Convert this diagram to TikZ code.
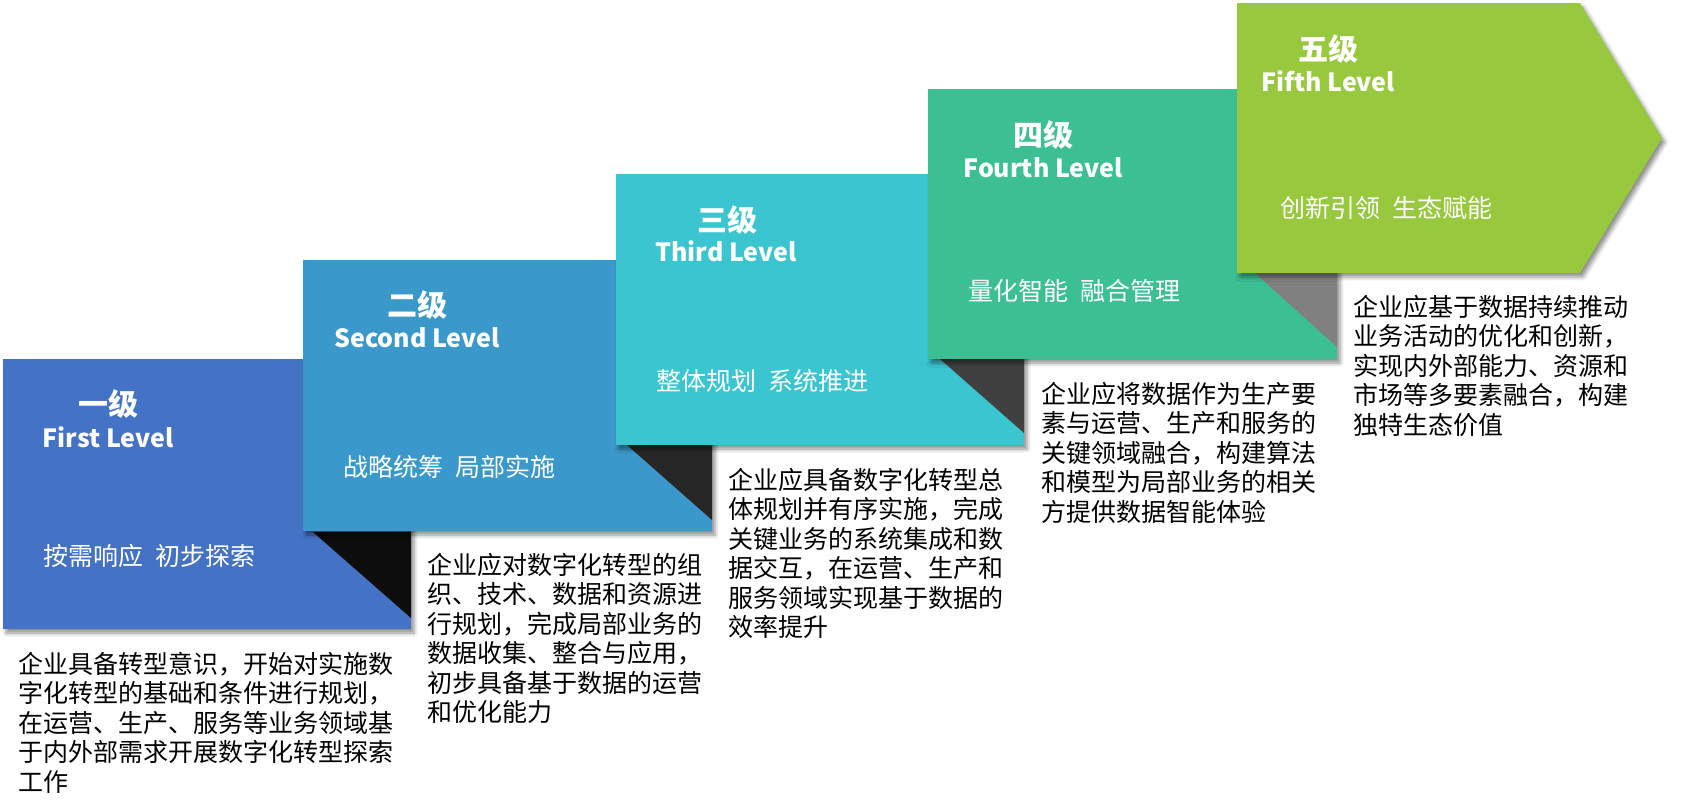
\documentclass[tikz,border=0pt]{standalone}
\usepackage{fontspec}
\setmainfont{Noto Sans CJK SC}
\usetikzlibrary{shadows.blur}
\definecolor{lvone}{HTML}{4472C4}
\definecolor{lvtwo}{HTML}{3A98CA}
\definecolor{lvthree}{HTML}{3AC5D0}
\definecolor{lvfour}{HTML}{3CBF93}
\definecolor{lvfive}{HTML}{97C83E}

\begin{document}
\begin{tikzpicture}[x=1pt,y=-1pt,
    stepshadow/.style={blur shadow={shadow xshift=3pt,shadow yshift=-4pt,shadow blur radius=4pt,shadow opacity=45}},
    cnlabel/.style={text=white,font=\bfseries\fontsize{30}{30}\selectfont,inner sep=0pt},
    enlabel/.style={text=white,font=\bfseries\fontsize{25}{25}\selectfont,inner sep=0pt,anchor=base},
    motto/.style={text=white,font=\fontsize{25}{25}\selectfont,inner sep=0pt,anchor=west},
    desc/.style={font=\fontsize{25}{29.5}\selectfont,inner sep=0pt,anchor=north west,align=left}]
        \useasboundingbox (0,0) rectangle (1697,804);

        \fill[lvone,stepshadow] (3,359) rectangle (411,629);
        \fill[black!95] (313,532) -- (411,532) -- (411,618) -- cycle;
        \fill[lvtwo,stepshadow] (303,260) rectangle (712,531);
        \fill[black!85] (627,445) -- (712,445) -- (712,520) -- cycle;
        \fill[lvthree,stepshadow] (616,174) rectangle (1024,445);
        \fill[black!75] (940,359) -- (1024,359) -- (1024,433) -- cycle;
        \fill[lvfour,stepshadow] (928,89) rectangle (1337,359);
        \fill[black!50] (1255,273) -- (1337,273) -- (1337,347) -- cycle;
        \fill[lvfive,stepshadow] (1237,3) -- (1580,3) -- (1662,138) -- (1580,273) -- (1237,273) -- cycle;

        \node[cnlabel] (cn1) at (108,404) {一级};
        \node[enlabel] (en1) at (108,447) {First Level};
        \node[motto] (mo1) at (43,556) {按需响应\enspace 初步探索};
        \node[cnlabel] (cn2) at (417,305) {二级};
        \node[enlabel] (en2) at (417,347) {Second Level};
        \node[motto] (mo2) at (343,467) {战略统筹\enspace 局部实施};
        \node[cnlabel] (cn3) at (727,220) {三级};
        \node[enlabel] (en3) at (726,261) {Third Level};
        \node[motto] (mo3) at (656,381) {整体规划\enspace 系统推进};
        \node[cnlabel] (cn4) at (1043,135) {四级};
        \node[enlabel] (en4) at (1043,177) {Fourth Level};
        \node[motto] (mo4) at (968,291) {量化智能\enspace 融合管理};
        \node[cnlabel] (cn5) at (1328,49) {五级};
        \node[enlabel] (en5) at (1328,91) {Fifth Level};
        \node[motto] (mo5) at (1280,208) {创新引领\enspace 生态赋能};

        \node[desc] (ds1) at (18,652) {企业具备转型意识，开始对实施数\\字化转型的基础和条件进行规划，\\在运营、生产、服务等业务领域基\\于内外部需求开展数字化转型探索\\工作};
        \node[desc] (ds2) at (427,553) {企业应对数字化转型的组\\织、技术、数据和资源进\\行规划，完成局部业务的\\数据收集、整合与应用，\\初步具备基于数据的运营\\和优化能力};
        \node[desc] (ds3) at (728,468) {企业应具备数字化转型总\\体规划并有序实施，完成\\关键业务的系统集成和数\\据交互，在运营、生产和\\服务领域实现基于数据的\\效率提升};
        \node[desc] (ds4) at (1041,382) {企业应将数据作为生产要\\素与运营、生产和服务的\\关键领域融合，构建算法\\和模型为局部业务的相关\\方提供数据智能体验};
        \node[desc] (ds5) at (1353,295) {企业应基于数据持续推动\\业务活动的优化和创新，\\实现内外部能力、资源和\\市场等多要素融合，构建\\独特生态价值};
    \end{tikzpicture}
\end{document}
